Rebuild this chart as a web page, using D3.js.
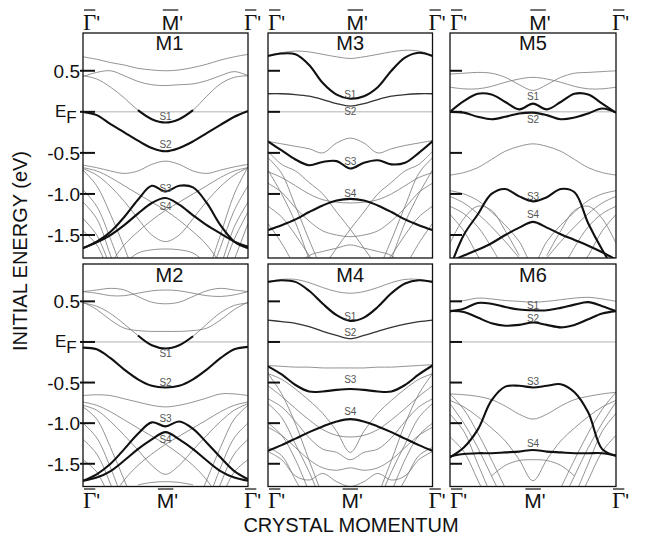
<!DOCTYPE html>
<meta charset="utf-8" />
<style>
  body { margin: 0; background: #fff; }
  svg text { font-family: "Liberation Sans", Arial, Helvetica, sans-serif; fill: #111; }
  .frame { fill: none; stroke: #111; stroke-width: 1.3px; }
  .thick { fill: none; stroke: #111; stroke-width: 2.1px; stroke-linejoin: round; }
  .mid { fill: none; stroke: #333; stroke-width: 1.3px; }
  .thin { fill: none; stroke: #777; stroke-width: 0.8px; }
  .ef { stroke: #a8a8a8; stroke-width: 0.9px; }
  .tick { stroke: #111; stroke-width: 2px; }
  .slab { font-size: 10px; text-anchor: middle; }
</style>
<body>
<script src="https://d3js.org/d3.v7.min.js"></script>
<script>
  const _ = null;

  // momentum grid (fraction of the way Γ' -> M' -> Γ')
  const kGrid = [0, 0.083, 0.167, 0.25, 0.333, 0.417, 0.5, 0.583, 0.667, 0.75, 0.833, 0.917, 1];
  const kTickPos = [0, 0.5, 1];
  const kTickLetters = ["Γ", "M", "Γ"];

  const energyTicks = [0.5, 0, -0.5, -1.0, -1.5];
  const energyTickLabels = ["0.5", "EF", "-0.5", "-1.0", "-1.5"];
  const energyDomain = [0.96, -1.78];

  const sNames = ["S1", "S2", "S3", "S4"];

  // ---- M1 ----
  const m1Thick = [
    [_, _, _, _, 0.02, -0.09, -0.13, -0.09, 0.02, _, _, _, _],
    [0.0, -0.04, -0.15, -0.25, -0.35, -0.44, -0.48, -0.44, -0.36, -0.26, -0.16, -0.06, 0.01],
    [-1.66, -1.58, -1.46, -1.28, -1.07, -0.90, -0.97, -0.90, -0.92, -1.11, -1.38, -1.58, -1.66],
    [-1.66, -1.59, -1.50, -1.38, -1.24, -1.11, -1.05, -1.13, -1.26, -1.38, -1.48, -1.58, -1.64]
  ];
  const m1Mid = [];
  const m1Thin = [
    [0.67, 0.64, 0.60, 0.57, 0.53, 0.51, 0.50, 0.51, 0.54, 0.58, 0.63, 0.67, 0.70],
    [0.43, 0.48, 0.50, 0.44, 0.37, 0.33, 0.32, 0.33, 0.34, 0.38, 0.44, 0.49, 0.44],
    [0.44, 0.40, 0.30, 0.17, 0.02, -0.09, -0.13, -0.09, 0.02, 0.19, 0.34, 0.42, 0.44],
    [-0.65, -0.68, -0.72, -0.75, -0.72, -0.64, -0.60, -0.64, -0.72, -0.75, -0.71, -0.67, -0.64],
    [-0.69, -0.77, -0.91, -1.09, -1.30, -1.50, -1.58, -1.50, -1.30, -1.09, -0.91, -0.77, -0.68],
    [-0.68, -0.72, -0.80, -0.90, -1.00, -1.10, -1.20, -1.32, -1.46, -1.62, -1.85, _, _],
    [_, _, -1.85, -1.62, -1.46, -1.32, -1.20, -1.10, -1.00, -0.90, -0.80, -0.72, -0.68],
    [-0.71, -0.90, -1.25, -1.65, -2.10, _, _, _, _, _, _, _, _],
    [-0.95, -1.15, -1.55, -2.00, _, _, _, _, _, _, _, _, _],
    [-1.10, -1.30, -1.75, -2.20, _, _, _, _, _, _, _, _, _],
    [-1.30, -1.50, -1.90, _, _, _, _, _, _, _, _, _, _],
    [-1.45, -1.62, -2.00, _, _, _, _, _, _, _, _, _, _],
    [_, _, _, _, _, _, _, _, _, -2.00, -1.50, -1.00, -0.67],
    [_, _, _, _, _, _, _, _, _, -2.10, -1.65, -1.20, -0.90],
    [_, _, _, _, _, _, _, _, _, _, -1.90, -1.40, -1.10],
    [_, _, _, _, _, _, _, _, _, _, -2.00, -1.55, -1.22],
    [_, _, _, _, _, _, _, _, _, _, _, -1.80, -1.36],
    [_, _, _, -1.85, -1.72, -1.68, -1.67, -1.68, -1.72, -1.85, _, _, _]
  ];
  const m1Labels = [-0.10, -0.44, -0.98, -1.20];

  // ---- M2 ----
  const m2Thick = [
    [_, _, _, _, 0.08, -0.04, -0.08, -0.04, 0.07, _, _, _, _],
    [-0.07, -0.09, -0.20, -0.34, -0.46, -0.54, -0.56, -0.54, -0.46, -0.34, -0.20, -0.09, -0.06],
    [-1.71, -1.63, -1.50, -1.32, -1.13, -0.99, -1.04, -0.98, -1.07, -1.24, -1.42, -1.59, -1.69],
    [-1.71, -1.67, -1.59, -1.46, -1.32, -1.20, -1.11, -1.20, -1.32, -1.46, -1.59, -1.67, -1.71]
  ];
  const m2Mid = [];
  const m2Thin = [
    [0.62, 0.64, 0.66, 0.64, 0.56, 0.49, 0.47, 0.49, 0.56, 0.63, 0.66, 0.64, 0.62],
    [0.62, 0.60, 0.57, 0.57, 0.60, 0.63, 0.64, 0.63, 0.60, 0.57, 0.56, 0.58, 0.62],
    [0.49, 0.40, 0.27, 0.17, 0.14, 0.13, 0.13, 0.13, 0.14, 0.17, 0.27, 0.40, 0.49],
    [0.48, 0.44, 0.35, 0.22, 0.08, -0.04, -0.08, -0.04, 0.07, 0.22, 0.36, 0.45, 0.48],
    [-0.66, -0.65, -0.66, -0.70, -0.74, -0.78, -0.80, -0.78, -0.74, -0.69, -0.64, -0.64, -0.66],
    [-0.78, -0.84, -0.98, -1.15, -1.33, -1.52, -1.63, -1.52, -1.33, -1.15, -0.98, -0.84, -0.76],
    [-0.74, -0.78, -0.86, -0.96, -1.06, -1.16, -1.26, -1.38, -1.52, -1.70, -1.95, _, _],
    [_, _, -1.95, -1.70, -1.52, -1.38, -1.26, -1.16, -1.06, -0.96, -0.86, -0.78, -0.74],
    [-0.80, -0.95, -1.30, -1.70, -2.10, _, _, _, _, _, _, _, _],
    [-1.00, -1.18, -1.55, -2.00, _, _, _, _, _, _, _, _, _],
    [-1.20, -1.38, -1.75, -2.20, _, _, _, _, _, _, _, _, _],
    [-1.45, -1.60, -1.95, _, _, _, _, _, _, _, _, _, _],
    [_, _, _, _, _, _, _, _, -2.10, -1.70, -1.30, -0.95, -0.78],
    [_, _, _, _, _, _, _, _, _, -2.00, -1.55, -1.18, -1.00],
    [_, _, _, _, _, _, _, _, _, -2.20, -1.75, -1.38, -1.20],
    [_, _, _, _, _, _, _, _, _, _, -1.95, -1.60, -1.45],
    [_, _, _, _, -1.76, -1.73, -1.72, -1.73, -1.76, _, _, _, _]
  ];
  const m2Labels = [-0.19, -0.54, -0.99, -1.25];

  // ---- M3 ----
  const m3Thick = [
    [0.68, 0.71, 0.70, 0.57, 0.35, 0.21, 0.16, 0.19, 0.30, 0.50, 0.66, 0.72, 0.68],
    [-0.36, -0.47, -0.58, -0.65, -0.61, -0.60, -0.69, -0.62, -0.59, -0.64, -0.62, -0.50, -0.36],
    [-1.44, -1.38, -1.31, -1.22, -1.14, -1.08, -1.06, -1.08, -1.14, -1.22, -1.31, -1.38, -1.44]
  ];
  const m3Mid = [
    [0.22, 0.22, 0.21, 0.19, 0.15, 0.10, 0.07, 0.10, 0.15, 0.19, 0.21, 0.22, 0.22]
  ];
  const m3Thin = [
    [0.69, 0.72, 0.74, 0.73, 0.70, 0.67, 0.65, 0.67, 0.70, 0.73, 0.75, 0.74, 0.69],
    [-0.36, -0.39, -0.42, -0.45, -0.50, -0.38, -0.32, -0.38, -0.50, -0.45, -0.41, -0.38, -0.35],
    [-0.48, -0.64, -0.72, -0.86, -1.00, -1.22, -1.43, -1.66, -1.90, _, _, _, _],
    [_, _, _, _, -1.90, -1.66, -1.43, -1.22, -1.00, -0.86, -0.72, -0.64, -0.48],
    [-0.73, -0.80, -0.90, -1.00, -1.07, -1.10, -1.11, -1.10, -1.07, -1.00, -0.90, -0.80, -0.74],
    [-0.87, -0.98, -1.17, -1.33, -1.45, -1.50, -1.52, -1.50, -1.45, -1.33, -1.17, -0.98, -0.87],
    [_, _, -1.90, -1.75, -1.70, -1.66, -1.62, -1.66, -1.70, -1.75, -1.90, _, _],
    [-0.56, -0.75, -1.15, -1.56, -1.95, _, _, _, _, _, _, _, _],
    [-0.71, -1.00, -1.35, -1.80, _, _, _, _, _, _, _, _, _],
    [-1.15, -1.28, -1.50, -1.75, -2.00, _, _, _, _, _, _, _, _],
    [-1.36, -1.60, -1.90, _, _, _, _, _, _, _, _, _, _],
    [_, _, _, _, _, _, _, _, -1.95, -1.56, -1.15, -0.75, -0.56],
    [_, _, _, _, _, _, _, _, _, -1.80, -1.35, -1.00, -0.71],
    [_, _, _, _, _, _, _, _, -2.00, -1.75, -1.50, -1.28, -1.15],
    [_, _, _, _, _, _, _, _, _, _, -1.90, -1.60, -1.36]
  ];
  const m3Labels = [0.17, -0.04, -0.65, -1.04];

  // ---- M4 ----
  const m4Thick = [
    [0.74, 0.76, 0.74, 0.63, 0.47, 0.33, 0.26, 0.30, 0.43, 0.60, 0.72, 0.76, 0.74],
    [-0.30, -0.40, -0.53, -0.61, -0.61, -0.59, -0.58, -0.59, -0.61, -0.61, -0.53, -0.40, -0.29],
    [-1.34, -1.27, -1.19, -1.11, -1.04, -0.98, -0.95, -0.98, -1.04, -1.11, -1.19, -1.27, -1.34]
  ];
  const m4Mid = [
    [0.27, 0.25, 0.23, 0.19, 0.13, 0.08, 0.04, 0.08, 0.13, 0.18, 0.22, 0.25, 0.27]
  ];
  const m4Thin = [
    [0.74, 0.77, 0.77, 0.73, 0.67, 0.62, 0.60, 0.62, 0.67, 0.73, 0.77, 0.77, 0.74],
    [-0.29, -0.30, -0.31, -0.31, -0.32, -0.32, -0.32, -0.32, -0.31, -0.31, -0.30, -0.29, -0.28],
    [-0.39, -0.46, -0.58, -0.72, -0.88, -1.10, -1.36, -1.10, -0.88, -0.72, -0.58, -0.46, -0.39],
    [-0.54, -0.67, -0.82, -0.96, -1.08, -1.15, -1.17, -1.15, -1.08, -0.96, -0.82, -0.67, -0.54],
    [-0.70, -0.80, -0.98, -1.18, -1.32, -1.36, -1.45, -1.36, -1.32, -1.18, -0.98, -0.80, -0.70],
    [-1.05, -1.15, -1.30, -1.45, -1.55, -1.58, -1.55, -1.58, -1.55, -1.45, -1.30, -1.15, -1.05],
    [-1.35, -1.45, -1.65, -1.70, -1.62, -1.72, -1.78, -1.72, -1.62, -1.70, -1.65, -1.45, -1.35],
    [-0.39, -0.64, -1.01, -1.46, -1.90, _, _, _, _, _, _, _, _],
    [-0.76, -0.93, -1.26, -1.60, -2.00, _, _, _, _, _, _, _, _],
    [-1.00, -1.15, -1.45, -1.85, _, _, _, _, _, _, _, _, _],
    [-1.30, -1.40, -1.70, -2.00, _, _, _, _, _, _, _, _, _],
    [_, _, _, _, _, _, _, _, -1.90, -1.46, -1.01, -0.64, -0.39],
    [_, _, _, _, _, _, _, _, -2.00, -1.60, -1.26, -0.93, -0.76],
    [_, _, _, _, _, _, _, _, _, -1.85, -1.45, -1.15, -1.00],
    [_, _, _, _, _, _, _, _, _, -2.00, -1.70, -1.40, -1.30]
  ];
  const m4Labels = [0.27, 0.07, -0.51, -0.90];

  // ---- M5 ----
  const m5Thick = [
    [0.00, 0.13, 0.22, 0.21, 0.12, 0.03, 0.10, 0.03, 0.12, 0.22, 0.21, 0.10, -0.01],
    [0.00, -0.01, -0.06, -0.09, -0.06, -0.02, -0.01, -0.04, -0.09, -0.07, -0.02, 0.04, -0.01],
    [-1.90, -1.50, -1.25, -1.00, -0.94, -1.03, -1.09, -1.04, -0.94, -0.98, -1.36, -1.68, -1.95],
    [-1.82, -1.75, -1.68, -1.60, -1.50, -1.41, -1.34, -1.41, -1.49, -1.56, -1.63, -1.71, -1.80]
  ];
  const m5Mid = [];
  const m5Thin = [
    [0.46, 0.47, 0.48, 0.47, 0.42, 0.33, 0.26, 0.33, 0.42, 0.47, 0.48, 0.49, 0.50],
    [0.30, 0.28, 0.28, 0.31, 0.36, 0.40, 0.42, 0.40, 0.36, 0.31, 0.28, 0.28, 0.30],
    [-0.77, -0.74, -0.68, -0.58, -0.48, -0.42, -0.39, -0.42, -0.48, -0.58, -0.68, -0.74, -0.77],
    [-1.03, -1.11, -1.24, -1.40, -1.58, -1.78, _, _, _, _, _, _, _],
    [-1.15, -1.24, -1.40, -1.65, -1.95, _, _, _, _, _, _, _, _],
    [-1.25, -1.45, -1.75, -2.00, _, _, _, _, _, _, _, _, _],
    [-1.60, -1.30, -1.15, -1.20, -1.45, -1.75, _, _, _, _, _, _, _],
    [-0.96, -1.00, -1.08, -1.22, -1.38, -1.58, -1.85, -1.58, -1.38, -1.22, -1.08, -1.00, -0.96],
    [_, _, _, _, _, _, _, -1.78, -1.58, -1.40, -1.24, -1.11, -1.03],
    [_, _, _, _, _, _, _, _, -1.95, -1.65, -1.40, -1.24, -1.15],
    [_, _, _, _, _, _, _, _, _, -2.00, -1.75, -1.45, -1.25],
    [_, _, _, _, _, _, _, -1.75, -1.45, -1.20, -1.15, -1.30, -1.60]
  ];
  const m5Labels = [0.15, -0.13, -1.07, -1.29];

  // ---- M6 ----
  const m6Thick = [
    [0.38, 0.41, 0.48, 0.47, 0.43, 0.40, 0.39, 0.39, 0.42, 0.46, 0.49, 0.44, 0.38],
    [0.38, 0.37, 0.30, 0.23, 0.20, 0.21, 0.24, 0.21, 0.18, 0.21, 0.28, 0.35, 0.38],
    [-1.42, -1.30, -1.08, -0.72, -0.55, -0.54, -0.56, -0.54, -0.52, -0.62, -0.87, -1.32, -1.40],
    [-1.41, -1.38, -1.37, -1.37, -1.36, -1.35, -1.33, -1.35, -1.36, -1.37, -1.37, -1.37, -1.40]
  ];
  const m6Mid = [];
  const m6Thin = [
    [0.50, 0.51, 0.54, 0.53, 0.51, 0.50, 0.49, 0.50, 0.52, 0.54, 0.55, 0.53, 0.50],
    [-0.64, -0.65, -0.67, -0.71, -0.79, -0.89, -0.95, -0.89, -0.79, -0.71, -0.67, -0.64, -0.62],
    [-0.72, -0.80, -0.92, -1.06, -1.22, -1.45, -1.71, -1.45, -1.22, -1.06, -0.92, -0.80, -0.72],
    [_, _, _, -1.65, -1.52, -1.46, -1.45, -1.46, -1.52, -1.65, _, _, _],
    [-0.64, -0.83, -1.12, -1.45, -1.80, _, _, _, _, _, _, _, _],
    [-0.76, -1.00, -1.30, -1.65, -2.00, _, _, _, _, _, _, _, _],
    [-0.89, -1.10, -1.50, -1.90, _, _, _, _, _, _, _, _, _],
    [-1.17, -1.35, -1.70, -2.05, _, _, _, _, _, _, _, _, _],
    [_, _, _, _, _, _, _, _, -1.80, -1.45, -1.12, -0.83, -0.62],
    [_, _, _, _, _, _, _, _, -2.00, -1.65, -1.30, -1.00, -0.74],
    [_, _, _, _, _, _, _, _, _, -1.90, -1.50, -1.10, -0.88],
    [_, _, _, _, _, _, _, _, _, -2.05, -1.70, -1.35, -1.15]
  ];
  const m6Labels = [0.40, 0.24, -0.53, -1.29];

  // ---- layout ----
  const W = 648, H = 540;
  const colX = [83, 268, 450], colW = [165, 164.5, 166];
  const rowY = [33, 264], rowH = [225, 222.5];

  const panels = [
    { name: "M1", col: 0, row: 0, thick: m1Thick, mid: m1Mid, thin: m1Thin, labels: m1Labels },
    { name: "M2", col: 0, row: 1, thick: m2Thick, mid: m2Mid, thin: m2Thin, labels: m2Labels },
    { name: "M3", col: 1, row: 0, thick: m3Thick, mid: m3Mid, thin: m3Thin, labels: m3Labels },
    { name: "M4", col: 1, row: 1, thick: m4Thick, mid: m4Mid, thin: m4Thin, labels: m4Labels },
    { name: "M5", col: 2, row: 0, thick: m5Thick, mid: m5Mid, thin: m5Thin, labels: m5Labels },
    { name: "M6", col: 2, row: 1, thick: m6Thick, mid: m6Mid, thin: m6Thin, labels: m6Labels }
  ];

  const svg = d3.select("body").append("svg")
    .attr("width", W).attr("height", H);

  panels.forEach((p, pi) => {
    const x0 = colX[p.col], x1 = colX[p.col] + colW[p.col];
    const y0 = rowY[p.row], y1 = rowY[p.row] + rowH[p.row];
    const x = d3.scaleLinear().domain([0, 1]).range([x0, x1]);
    const y = d3.scaleLinear().domain(energyDomain).range([y0, y1]);

    const clipId = "clip" + pi;
    svg.append("clipPath").attr("id", clipId)
      .append("rect").attr("x", x0).attr("y", y0)
      .attr("width", x1 - x0).attr("height", y1 - y0);

    const g = svg.append("g");
    const plot = g.append("g").attr("clip-path", "url(#" + clipId + ")");

    const line = d3.line()
      .defined(d => d[1] != null)
      .x(d => x(d[0]))
      .y(d => y(d[1]))
      .curve(d3.curveCatmullRom.alpha(0.5));
    const pts = arr => kGrid.map((k, i) => [k, arr[i]]);

    // Fermi level
    plot.append("line").attr("class", "ef")
      .attr("x1", x(0)).attr("x2", x(1))
      .attr("y1", y(0)).attr("y2", y(0));

    plot.selectAll("path.thin").data(p.thin).enter()
      .append("path").attr("class", "thin").attr("d", d => line(pts(d)));
    plot.selectAll("path.mid").data(p.mid).enter()
      .append("path").attr("class", "mid").attr("d", d => line(pts(d)));
    plot.selectAll("path.thick").data(p.thick).enter()
      .append("path").attr("class", "thick").attr("d", d => line(pts(d)));

    // S labels at M'
    g.selectAll("text.slab").data(p.labels).enter()
      .append("text").attr("class", "slab")
      .attr("x", x(0.5)).attr("y", d => y(d))
      .style("fill", "#555")
      .text((d, i) => sNames[i]);

    // frame
    g.append("rect").attr("class", "frame")
      .attr("x", x0).attr("y", y0)
      .attr("width", x1 - x0).attr("height", y1 - y0);

    // inner ticks
    g.selectAll("line.tick").data(energyTicks).enter()
      .append("line").attr("class", "tick")
      .attr("x1", p.col === 0 ? x0 - 3 : x0).attr("x2", x0 + 12)
      .attr("y1", d => y(d)).attr("y2", d => y(d));

    // panel title
    g.append("text")
      .attr("x", x(0.5) + (p.col === 0 ? 4 : 0))
      .attr("y", y0 + (p.row === 0 ? 17 : 18))
      .attr("text-anchor", "middle")
      .style("font-size", "20px")
      .text(p.name);

    // energy labels on the left column
    if (p.col === 0) {
      energyTicks.forEach((e, i) => {
        if (energyTickLabels[i] === "EF") {
          const t = g.append("text")
            .attr("x", 55).attr("y", y(e) + 5)
            .style("font-size", "17px");
          t.append("tspan").text("E");
          t.append("tspan").attr("dy", 6).text("F");
        } else {
          g.append("text")
            .attr("x", 80).attr("y", y(e) + 7)
            .attr("text-anchor", "end")
            .style("font-size", "19px")
            .text(energyTickLabels[i]);
        }
      });
    }

    // momentum labels (top row above, bottom row below)
    const base = p.row === 0 ? 30 : 508;
    const barY = p.row === 0 ? 10 : 489;
    kTickPos.forEach((k, i) => {
      const isM = kTickLetters[i] === "M";
      const t = g.append("text").attr("y", base);
      if (k === 0) t.attr("x", x(0));
      else if (k === 1) t.attr("x", x(1) - 4);
      else t.attr("x", x(0.5) + (p.row === 0 ? 7 : 2)).attr("text-anchor", "middle");
      t.append("tspan")
        .style("font-family", isM ? "'Liberation Sans', Arial, sans-serif" : "'Liberation Serif', 'Times New Roman', serif")
        .style("font-size", isM ? "21px" : "23px")
        .text(kTickLetters[i]);
      t.append("tspan").style("font-size", "20px").text("'");
      const ext = t.node().getExtentOfChar(0);
      g.append("line")
        .attr("x1", ext.x + 1).attr("x2", ext.x + ext.width - 1)
        .attr("y1", barY).attr("y2", barY)
        .style("stroke", "#222").style("stroke-width", 1.3);
    });
  });

  // axis titles
  svg.append("text")
    .attr("transform", "translate(27,251) rotate(-90)")
    .attr("text-anchor", "middle")
    .style("font-size", "20px")
    .text("INITIAL ENERGY (eV)");

  svg.append("text")
    .attr("x", 351).attr("y", 532)
    .attr("text-anchor", "middle")
    .style("font-size", "20px")
    .text("CRYSTAL MOMENTUM");
</script>
</body>
